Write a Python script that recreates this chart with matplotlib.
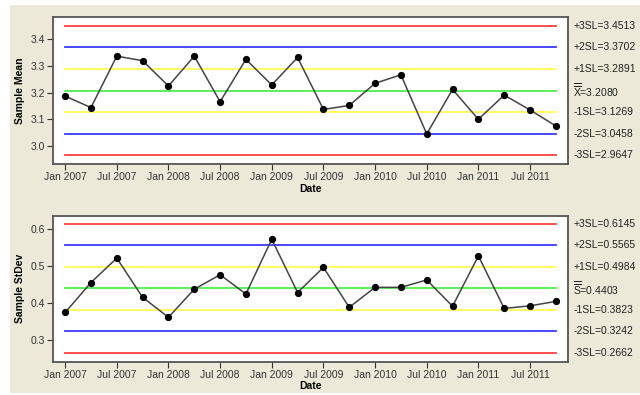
import numpy as np
import matplotlib
matplotlib.use("Agg")
import matplotlib.pyplot as plt
from matplotlib.patches import Rectangle

# quarterly samples, Jan 2007 .. Oct 2011
n_points = 20
tick_labels = ["Jan 2007", "Jul 2007", "Jan 2008", "Jul 2008", "Jan 2009",
               "Jul 2009", "Jan 2010", "Jul 2010", "Jan 2011", "Jul 2011"]

mean_vals = [3.187, 3.144, 3.337, 3.320, 3.225, 3.337, 3.166, 3.325, 3.229, 3.332,
             3.137, 3.152, 3.235, 3.267, 3.045, 3.212, 3.100, 3.191, 3.135, 3.075]
sd_vals = [0.375, 0.456, 0.522, 0.416, 0.362, 0.438, 0.477, 0.425, 0.573, 0.429,
           0.497, 0.389, 0.443, 0.443, 0.463, 0.392, 0.528, 0.386, 0.393, 0.405]

mean_limits = [3.4513, 3.3702, 3.2891, 3.2080, 3.1269, 3.0458, 2.9647]
sd_limits = [0.6145, 0.5565, 0.4984, 0.4403, 0.3823, 0.3242, 0.2662]
limit_names = ["+3SL", "+2SL", "+1SL", None, "-1SL", "-2SL", "-3SL"]
limit_colors = ["#ff4040", "#3a3aff", "#ffff50", "#50ee50", "#ffff50", "#3a3aff", "#ff4040"]

plt.rcParams['font.family'] = ['Liberation Sans', 'DejaVu Sans']
plt.rcParams['mathtext.fontset'] = 'custom'
plt.rcParams['mathtext.rm'] = 'Liberation Sans'

fig = plt.figure(figsize=(6.4, 3.95), dpi=100)
fig.patch.set_facecolor("white")
fig.patches.append(Rectangle((10 / 640, 0.005), 1, 1 - 5 / 395 - 0.005,
                             transform=fig.transFigure, facecolor="#ece9d8",
                             edgecolor="none", zorder=-10))

x = np.arange(n_points)


def control_panel(ax, vals, limits, center_name, ylabel, yticks, ylim):
    for i, (lim, col) in enumerate(zip(limits, limit_colors)):
        ax.plot([0, n_points - 1], [lim, lim], color=col, lw=1.3, zorder=1)
        name = limit_names[i] if limit_names[i] else center_name
        ax.text(1.01, lim, "%s=%.4f" % (name, lim), transform=ax.get_yaxis_transform(),
                va="center", ha="left", fontsize=7.5, color="#222222")
    ax.plot(x, vals, color="#444444", lw=1.1, zorder=2)
    ax.plot(x, vals, "o", color="black", ms=4.2, zorder=3)
    ax.set_xlim(-0.47, n_points - 1 + 0.47)
    ax.set_ylim(*ylim)
    ax.set_yticks(yticks)
    ax.set_yticklabels(["%.1f" % t for t in yticks])
    ax.set_xticks(np.arange(0, n_points, 2))
    ax.set_xticklabels(tick_labels)
    ax.tick_params(labelsize=7.5, length=4, width=0.8, colors="#333333", pad=2)
    ax.set_facecolor("white")
    for s in ax.spines.values():
        s.set_color("#555555")
        s.set_linewidth(1.3)
    ax.set_ylabel(ylabel, fontsize=7.5, fontweight="bold", labelpad=4)
    ax.set_xlabel("Date", fontsize=7.5, fontweight="bold", labelpad=1)


ax1 = fig.add_axes([0.0828, 0.585, 0.8047, 0.372])
control_panel(ax1, mean_vals, mean_limits, r"$\overline{\overline{\mathrm{X}}}$", "Sample Mean",
              [3.0, 3.1, 3.2, 3.3, 3.4], (2.9325, 3.484))

ax2 = fig.add_axes([0.0828, 0.0843, 0.8047, 0.369])
control_panel(ax2, sd_vals, sd_limits, r"$\overline{\overline{\mathrm{S}}}$", "Sample StDev",
              [0.3, 0.4, 0.5, 0.6], (0.242, 0.636))

fig.savefig("out.png", dpi=100)
